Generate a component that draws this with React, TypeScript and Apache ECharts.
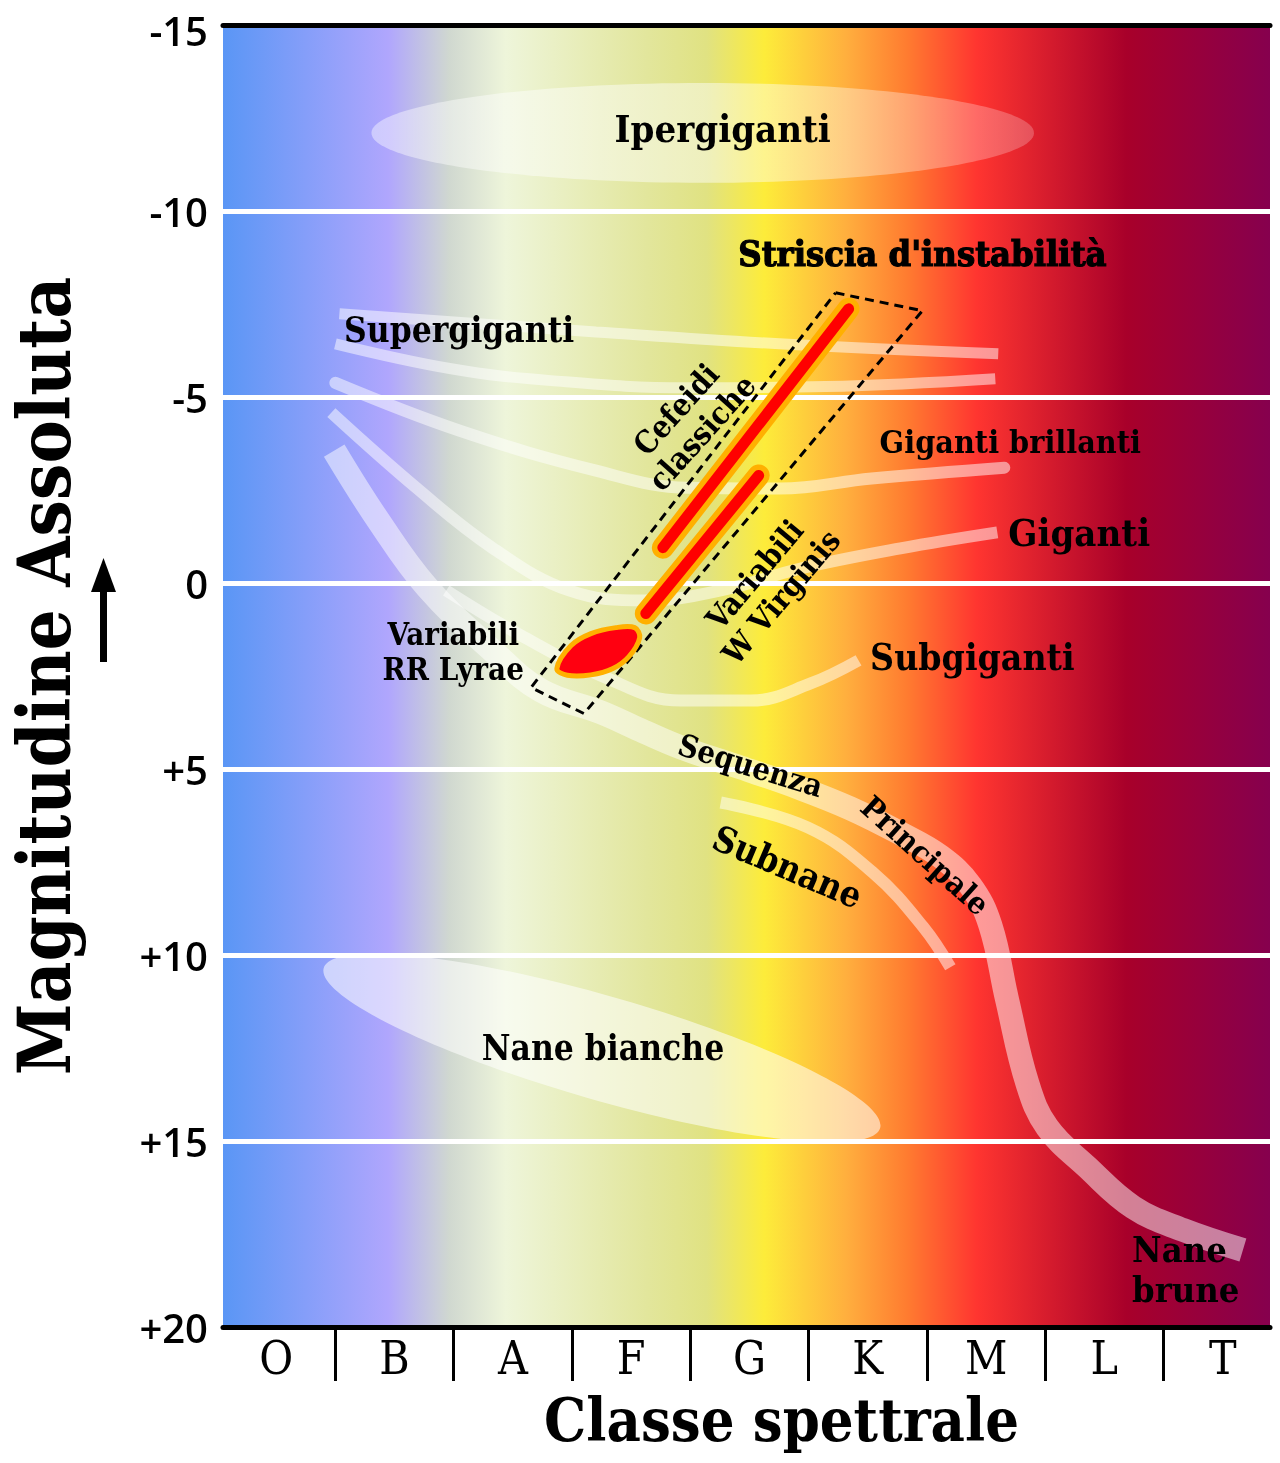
import React, { useEffect, useRef } from "react";
import * as echarts from "echarts";

// ---------- data (spectral class index on x, absolute magnitude on y) ----------
const spectralClasses = ["O", "B", "A", "F", "G", "K", "M", "L", "T"];
const classCenters = [0.5, 1.5, 2.5, 3.5, 4.5, 5.5, 6.5, 7.5, 8.5];
const classBounds = [1, 2, 3, 4, 5, 6, 7, 8];
const magMin = -15;
const magMax = 20;
const magStep = 5;

const supergiantsUpper: number[][] = [[1.034, -7.24], [3.203, -6.75], [4.755, -6.43], [6.603, -6.16]];
const supergiantsLower: number[][] = [[1.0, -6.43], [1.979, -5.76], [2.823, -5.44], [3.979, -5.25], [5.143, -5.28], [6.578, -5.49]];
const brightGiants: number[][] = [[1.0, -5.38], [2.046, -4.1], [3.203, -3.02], [3.979, -2.56], [4.755, -2.54], [5.532, -2.81], [6.654, -3.1]];
const giants: number[][] = [[0.966, -4.58], [1.684, -2.56], [2.325, -0.95], [2.975, 0.2], [3.616, 0.47], [4.257, 0.2], [4.932, -0.39], [5.776, -0.93], [6.595, -1.36]];
const subgiants: number[][] = [[1.937, 0.2], [2.57, 1.41], [3.245, 2.49], [3.92, 3.16], [4.511, 3.16], [5.017, 2.7], [5.422, 2.08]];
const mainSequence: number[][] = [[0.99, -3.56], [1.363, -1.68], [1.776, 0.12], [2.325, 1.81], [2.738, 2.89], [3.245, 3.48], [3.582, 3.96], [3.945, 4.45], [4.426, 4.96], [4.907, 5.49], [5.354, 6.06], [5.776, 6.73], [6.114, 7.35], [6.367, 8.13], [6.536, 9.2], [6.679, 11.22], [6.848, 13.44], [7.017, 14.63], [7.354, 15.7], [7.743, 16.78], [8.165, 17.39], [8.671, 17.93]];
const subdwarfs: number[][] = [[4.257, 5.9], [4.992, 6.57], [5.549, 7.8], [5.97, 9.25], [6.198, 10.33]];

const classicalCepheids: number[][] = [[3.768, -0.95], [5.338, -7.37]];
const wVirginis: number[][] = [[3.624, 0.82], [4.578, -2.89]];
const rrLyrae: number[][] = [[2.872, 2.3], [2.992, 1.68], [3.16, 1.36], [3.371, 1.2], [3.53, 1.2], [3.572, 1.47], [3.481, 1.98], [3.346, 2.3], [3.16, 2.47], [2.96, 2.48]];
const instabilityStrip: number[][] = [[5.228, -7.8], [5.962, -7.32], [3.101, 3.51], [2.654, 2.81], [5.228, -7.8]];

// ellipses: [centerX, centerY, semiAxisX (class units), semiAxisY (mag units), tilt deg]
const hypergiants = [4.105, -12.1, 2.8, 1.343, 0];
const whiteDwarfs = [3.253, 12.5, 2.447, 1.397, -16];

const regionNames = ["Ipergiganti", "Striscia d'instabilità", "Supergiganti", "Giganti brillanti", "Giganti", "Subgiganti", "Variabili\nRR Lyrae", "Cefeidi\nclassiche", "Variabili\nW Virginis", "Sequenza", "Principale", "Subnane", "Nane bianche", "Nane\nbrune"];
const regionX = [4.274, 5.962, 2.046, 6.705, 7.287, 6.384, 1.996, 3.987, 4.654, 4.511, 5.987, 4.823, 3.262, 7.734];
const regionY = [-12.21, -8.88, -6.81, -3.8, -1.36, 2.0, 1.84, -4.36, 0.07, 4.9, 7.32, 7.62, 12.48, 18.44];
const regionAngle = [0, 0, 0, 0, 0, 0, 0, 48, 50, -17, -42, -23, 0, 0];
const regionSize = [38, 36, 35, 32, 38, 37, 31, 31, 31, 31, 31, 36, 35, 36];
const regionAlign = ["center", "center", "center", "center", "center", "center", "center", "center", "center", "center", "center", "center", "center", "left"];

const SERIF = "'DejaVu Serif Condensed', 'DejaVu Serif', serif";
const SANS = "'Open Sans', 'Noto Sans', sans-serif";

function bandSeries(data: number[][], width: number, cap = "butt") {
  return {
    type: "line",
    data,
    smooth: 0.4,
    symbol: "none",
    silent: true,
    lineStyle: { color: "rgba(255,255,255,0.5)", width, cap },
    z: 3,
  };
}

function stripSeries(data: number[][]) {
  return [
    { type: "line", data, symbol: "none", silent: true, lineStyle: { color: "#ffb000", width: 22, cap: "round" }, z: 5 },
    { type: "line", data, symbol: "none", silent: true, lineStyle: { color: "#ff0000", width: 11, cap: "round" }, z: 6 },
  ];
}

export default function App() {
  const ref = useRef<HTMLDivElement>(null);
  useEffect(() => {
    if (!ref.current) return;
    const chart = echarts.init(ref.current, undefined, { renderer: "svg" });

    const ellipseSeries = {
      type: "custom",
      silent: true,
      z: 2,
      data: [hypergiants, whiteDwarfs],
      encode: { x: 0, y: 1 },
      renderItem: (params: any, api: any) => {
        const e = params.dataIndex === 0 ? hypergiants : whiteDwarfs;
        const c = api.coord([e[0], e[1]]);
        const s = api.size([e[2], e[3]]);
        const fill =
          params.dataIndex === 0
            ? new echarts.graphic.LinearGradient(0, 0, 1, 0, [
                { offset: 0, color: "rgba(255,255,255,0.42)" },
                { offset: 0.5, color: "rgba(255,255,255,0.47)" },
                { offset: 1, color: "rgba(255,255,255,0.22)" },
              ])
            : "rgba(255,255,255,0.55)";
        return {
          type: "ellipse",
          x: c[0],
          y: c[1],
          rotation: (e[4] * Math.PI) / 180,
          shape: { cx: 0, cy: 0, rx: s[0], ry: s[1] },
          style: { fill },
        };
      },
    };

    const rrSeries = {
      type: "custom",
      silent: true,
      z: 7,
      data: [rrLyrae[0]],
      encode: { x: 0, y: 1 },
      renderItem: (_p: any, api: any) => ({
        type: "polygon",
        shape: { points: rrLyrae.map((p) => api.coord(p)), smooth: 0.35 },
        style: { fill: "#ff0010", stroke: "#ffb000", lineWidth: 5 },
      }),
    };

    const labelSeries = {
      type: "custom",
      silent: true,
      z: 10,
      data: regionX.map((x, i) => [x, regionY[i]]),
      encode: { x: 0, y: 1 },
      renderItem: (params: any, api: any) => {
        const i = params.dataIndex;
        const p = api.coord([regionX[i], regionY[i]]);
        const bold = i === 1;
        return {
          type: "text",
          x: p[0],
          y: p[1],
          rotation: (regionAngle[i] * Math.PI) / 180,
          style: {
            text: regionNames[i],
            fontFamily: SERIF,
            fontWeight: bold ? 900 : "bold",
            fontSize: regionSize[i],
            lineHeight: regionSize[i] * 1.12,
            fill: "#000",
            stroke: bold ? "#000" : undefined,
            lineWidth: bold ? 1.2 : 0,
            align: regionAlign[i],
            verticalAlign: "middle",
          },
        };
      },
    };

    const bg = new echarts.graphic.LinearGradient(0, 0, 1, 0, [
      { offset: 0, color: "#5a96f5" },
      { offset: 0.158, color: "#b0a6fd" },
      { offset: 0.216, color: "#d0d8d0" },
      { offset: 0.27, color: "#eef5da" },
      { offset: 0.405, color: "#e2e69c" },
      { offset: 0.462, color: "#e0e282" },
      { offset: 0.517, color: "#fdec3a" },
      { offset: 0.595, color: "#ffaf3e" },
      { offset: 0.653, color: "#ff7c30" },
      { offset: 0.72, color: "#ff3530" },
      { offset: 0.863, color: "#a8002a" },
      { offset: 1, color: "#86004e" },
    ]);

    chart.setOption({
      animation: false,
      grid: {
        left: 222,
        right: 10,
        top: 24,
        bottom: 136,
        show: true,
        borderWidth: 0,
        backgroundColor: bg,
      },
      xAxis: [
        {
          type: "value",
          min: 0.05,
          max: 8.9,
          position: "bottom",
          name: "Classe spettrale",
          nameLocation: "middle",
          nameGap: 64,
          nameTextStyle: {
            fontFamily: SERIF,
            fontWeight: "bold",
            fontSize: 59,
            color: "#000",
            padding: [0, 0, 0, 70],
          },
          axisLine: { show: true, onZero: false, lineStyle: { color: "#000", width: 5 } },
          axisTick: { show: true, customValues: classBounds, length: 54, lineStyle: { color: "#000", width: 3 } },
          axisLabel: {
            customValues: classCenters,
            formatter: (v: number) => spectralClasses[Math.floor(v)],
            fontFamily: SERIF,
            fontSize: 46,
            color: "#000",
            margin: 8,
          },
          splitLine: { show: false },
        },
        {
          type: "value",
          min: 0.05,
          max: 8.9,
          position: "top",
          axisLine: { show: true, onZero: false, lineStyle: { color: "#000", width: 5 } },
          axisTick: { show: false },
          axisLabel: { show: false },
          splitLine: { show: false },
        },
      ],
      yAxis: {
        type: "value",
        inverse: true,
        min: magMin,
        max: magMax,
        interval: magStep,
        name: "Magnitudine Assoluta",
        nameLocation: "middle",
        nameRotate: 90,
        nameGap: 143,
        nameTextStyle: { fontFamily: SERIF, fontWeight: "bold", fontSize: 72, color: "#000" },
        axisLine: { show: false },
        axisTick: { show: false },
        axisLabel: {
          formatter: (v: number) => {
            const s = v > 0 ? "+" + v : String(v);
            return v === magMin ? "{first|" + s + "}" : s;
          },
          fontFamily: SANS,
          fontWeight: 600,
          fontSize: 40,
          lineHeight: 34,
          color: "#000",
          margin: 15,
          rich: {
            first: {
              fontFamily: SANS,
              fontWeight: 600,
              fontSize: 40,
              lineHeight: 34,
              color: "#000",
              padding: [10, 0, 0, 0],
            },
          },
        },
        splitLine: { show: true, lineStyle: { color: "#ffffff", width: 5 } },
      },
      graphic: [
        { type: "rect", shape: { x: 100, y: 585, width: 7, height: 77 }, style: { fill: "#000" } },
        { type: "polygon", shape: { points: [[103.5, 558], [91, 592], [116, 592]] }, style: { fill: "#000" } },
      ],
      series: [
        ellipseSeries,
        bandSeries(supergiantsUpper, 11),
        bandSeries(supergiantsLower, 11),
        bandSeries(brightGiants, 12, "round"),
        bandSeries(giants, 12),
        bandSeries(subgiants, 12),
        bandSeries(mainSequence, 24),
        bandSeries(subdwarfs, 12),
        {
          type: "line",
          data: instabilityStrip,
          symbol: "none",
          silent: true,
          lineStyle: { color: "#000", width: 3, type: [9, 6] },
          z: 4,
        },
        ...stripSeries(classicalCepheids),
        ...stripSeries(wVirginis),
        rrSeries,
        labelSeries,
      ],
    });
    return () => chart.dispose();
  }, []);
  return <div ref={ref} style={{ position: "fixed", left: 0, top: 0, width: 1280, height: 1463 }} />;
}
